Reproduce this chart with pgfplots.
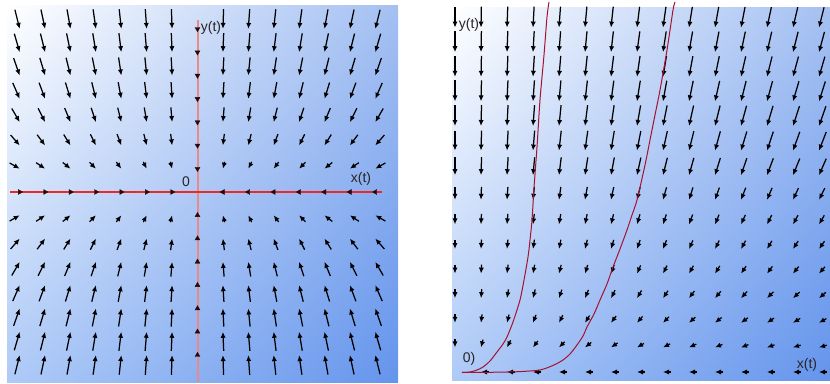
\documentclass[border=0pt]{standalone}
\usepackage{pgfplots}
\pgfplotsset{compat=1.18}
\usepackage{pgfplotstable}
\usepackage{fontspec}
\setmainfont{Liberation Sans}
\usetikzlibrary{arrows.meta,shadings}
\definecolor{bgTR}{RGB}{164,192,242}
\definecolor{bgBL}{RGB}{174,202,247}
\definecolor{bgBR}{RGB}{100,148,236}
\definecolor{axred}{RGB}{236,40,40}
\definecolor{axpink}{RGB}{232,138,138}
\definecolor{trajred}{RGB}{165,18,48}
\definecolor{dotcol}{RGB}{40,8,8}

% left panel, one quadrant of the field: grid point (i,j), offset of the tail (a,b)
\pgfplotstableread[row sep=\\]{
i j a b\\
1 1 0.0678 0.2954\\ 2 1 0.1333 0.2906\\ 3 1 0.1952 0.2838\\ 4 1 0.2526 0.2754\\ 5 1 0.3053 0.2663\\ 6 1 0.3534 0.2568\\ 7 1 0.3971 0.2474\\
1 2 0.0567 0.4948\\ 2 2 0.1126 0.4910\\ 3 2 0.1668 0.4848\\ 4 2 0.2186 0.4766\\ 5 2 0.2675 0.4666\\ 6 2 0.3135 0.4556\\ 7 2 0.3563 0.4439\\
1 3 0.0481 0.6288\\ 2 3 0.0957 0.6257\\ 3 3 0.1423 0.6206\\ 4 3 0.1876 0.6134\\ 5 3 0.2313 0.6051\\ 6 3 0.2731 0.5953\\ 7 3 0.3125 0.5840\\
1 4 0.0412 0.7183\\ 2 4 0.0821 0.7162\\ 3 4 0.1225 0.7121\\ 4 4 0.1620 0.7066\\ 5 4 0.2004 0.6990\\ 6 4 0.2376 0.6908\\ 7 4 0.2737 0.6819\\
1 5 0.0357 0.7785\\ 2 5 0.0713 0.7768\\ 3 5 0.1064 0.7734\\ 4 5 0.1411 0.7691\\ 5 5 0.1750 0.7631\\ 6 5 0.2081 0.7562\\ 7 5 0.2403 0.7485\\
1 6 0.0313 0.8189\\ 2 6 0.0625 0.8178\\ 3 6 0.0934 0.8147\\ 4 6 0.1239 0.8106\\ 5 6 0.1541 0.8065\\ 6 6 0.1835 0.8003\\ 7 6 0.2125 0.7941\\
1 7 0.0277 0.8460\\ 2 7 0.0554 0.8448\\ 3 7 0.0828 0.8424\\ 4 7 0.1101 0.8400\\ 5 7 0.1368 0.8352\\ 6 7 0.1632 0.8304\\ 7 7 0.1893 0.8256\\
}\leftq

% right panel field: grid point (i,j), offset of the tail (a,b)
\pgfplotstableread[row sep=\\]{
i j a b\\
1 0 0.3077 0\\ 2 0 0.3077 0\\ 3 0 0.3077 0\\ 4 0 0.3077 0\\ 5 0 0.3077 0\\ 6 0 0.3077 0\\ 7 0 0.3077 0\\ 8 0 0.3077 0\\ 9 0 0.3077 0\\ 10 0 0.3077 0\\ 11 0 0.3077 0\\ 12 0 0.3077 0\\ 13 0 0.3077 0\\ 14 0 0.3077 0\\
0 1 0 0.3252\\ 1 1 0.0746 0.3155\\ 2 1 0.1376 0.2909\\ 3 1 0.1846 0.2602\\ 4 1 0.2176 0.2300\\ 5 1 0.2402 0.2031\\ 6 1 0.2560 0.1804\\ 7 1 0.2672 0.1613\\ 8 1 0.2752 0.1454\\ 9 1 0.2812 0.1321\\ 10 1 0.2857 0.1208\\ 11 1 0.2893 0.1112\\ 12 1 0.2919 0.1028\\ 13 1 0.2941 0.0956\\ 14 1 0.2959 0.0893\\
0 2 0 0.3455\\ 1 2 0.0405 0.3429\\ 2 2 0.0793 0.3352\\ 3 2 0.1148 0.3235\\ 4 2 0.1462 0.3090\\ 5 2 0.1733 0.2930\\ 6 2 0.1962 0.2764\\ 7 2 0.2153 0.2600\\ 8 2 0.2312 0.2444\\ 9 2 0.2444 0.2296\\ 10 2 0.2552 0.2158\\ 11 2 0.2644 0.2033\\ 12 2 0.2721 0.1917\\ 13 2 0.2785 0.1811\\ 14 2 0.2839 0.1715\\
0 3 0 0.3659\\ 1 3 0.0287 0.3646\\ 2 3 0.0569 0.3607\\ 3 3 0.0840 0.3549\\ 4 3 0.1095 0.3471\\ 5 3 0.1331 0.3377\\ 6 3 0.1548 0.3271\\ 7 3 0.1744 0.3160\\ 8 3 0.1920 0.3044\\ 9 3 0.2077 0.2927\\ 10 3 0.2216 0.2811\\ 11 3 0.2339 0.2697\\ 12 3 0.2448 0.2587\\ 13 3 0.2544 0.2482\\ 14 3 0.2628 0.2381\\
0 4 0 0.3659\\ 1 4 0.0216 0.3651\\ 2 4 0.0429 0.3631\\ 3 4 0.0638 0.3595\\ 4 4 0.0840 0.3550\\ 5 4 0.1033 0.3493\\ 6 4 0.1215 0.3425\\ 7 4 0.1388 0.3353\\ 8 4 0.1548 0.3272\\ 9 4 0.1697 0.3188\\ 10 4 0.1834 0.3102\\ 11 4 0.1961 0.3014\\ 12 4 0.2077 0.2927\\ 13 4 0.2182 0.2839\\ 14 4 0.2279 0.2753\\
0 5 0 0.3862\\ 1 5 0.0183 0.3858\\ 2 5 0.0364 0.3842\\ 3 5 0.0542 0.3819\\ 4 5 0.0716 0.3786\\ 5 5 0.0886 0.3745\\ 6 5 0.1050 0.3699\\ 7 5 0.1207 0.3645\\ 8 5 0.1357 0.3585\\ 9 5 0.1500 0.3522\\ 10 5 0.1634 0.3454\\ 11 5 0.1760 0.3383\\ 12 5 0.1880 0.3312\\ 13 5 0.1991 0.3238\\ 14 5 0.2096 0.3164\\
0 6 0 0.4268\\ 1 6 0.0168 0.4264\\ 2 6 0.0335 0.4254\\ 3 6 0.0501 0.4235\\ 4 6 0.0664 0.4211\\ 5 6 0.0823 0.4178\\ 6 6 0.0979 0.4140\\ 7 6 0.1131 0.4098\\ 8 6 0.1277 0.4049\\ 9 6 0.1418 0.3997\\ 10 6 0.1553 0.3940\\ 11 6 0.1683 0.3880\\ 12 6 0.1806 0.3818\\ 13 6 0.1924 0.3754\\ 14 6 0.2035 0.3688\\
0 7 0 0.5285\\ 1 7 0.0178 0.5281\\ 2 7 0.0356 0.5271\\ 3 7 0.0533 0.5254\\ 4 7 0.0707 0.5232\\ 5 7 0.0879 0.5203\\ 6 7 0.1047 0.5166\\ 7 7 0.1213 0.5127\\ 8 7 0.1374 0.5081\\ 9 7 0.1530 0.5031\\ 10 7 0.1682 0.4977\\ 11 7 0.1828 0.4919\\ 12 7 0.1970 0.4858\\ 13 7 0.2105 0.4793\\ 14 7 0.2236 0.4727\\
0 8 0 0.7317\\ 1 8 0.0216 0.7313\\ 2 8 0.0432 0.7303\\ 3 8 0.0646 0.7284\\ 4 8 0.0859 0.7260\\ 5 8 0.1069 0.7229\\ 6 8 0.1276 0.7191\\ 7 8 0.1479 0.7148\\ 8 8 0.1679 0.7100\\ 9 8 0.1874 0.7044\\ 10 8 0.2065 0.6983\\ 11 8 0.2250 0.6919\\ 12 8 0.2430 0.6850\\ 13 8 0.2605 0.6778\\ 14 8 0.2775 0.6703\\
0 9 0 0.8130\\ 1 9 0.0214 0.8128\\ 2 9 0.0427 0.8116\\ 3 9 0.0639 0.8103\\ 4 9 0.0850 0.8081\\ 5 9 0.1058 0.8052\\ 6 9 0.1264 0.8018\\ 7 9 0.1468 0.7981\\ 8 9 0.1669 0.7936\\ 9 9 0.1865 0.7886\\ 10 9 0.2059 0.7834\\ 11 9 0.2248 0.7775\\ 12 9 0.2432 0.7712\\ 13 9 0.2612 0.7646\\ 14 9 0.2788 0.7576\\
0 10 0 0.8537\\ 1 10 0.0202 0.8535\\ 2 10 0.0403 0.8525\\ 3 10 0.0604 0.8514\\ 4 10 0.0804 0.8494\\ 5 10 0.1002 0.8471\\ 6 10 0.1198 0.8442\\ 7 10 0.1392 0.8408\\ 8 10 0.1584 0.8371\\ 9 10 0.1773 0.8328\\ 10 10 0.1959 0.8281\\ 11 10 0.2142 0.8232\\ 12 10 0.2321 0.8177\\ 13 10 0.2496 0.8119\\ 14 10 0.2668 0.8057\\
0 11 0 0.8537\\ 1 11 0.0184 0.8535\\ 2 11 0.0367 0.8526\\ 3 11 0.0549 0.8517\\ 4 11 0.0731 0.8501\\ 5 11 0.0912 0.8483\\ 6 11 0.1091 0.8458\\ 7 11 0.1269 0.8431\\ 8 11 0.1445 0.8399\\ 9 11 0.1619 0.8363\\ 10 11 0.1790 0.8324\\ 11 11 0.1959 0.8283\\ 12 11 0.2125 0.8235\\ 13 11 0.2288 0.8186\\ 14 11 0.2449 0.8135\\
0 12 0 0.8537\\ 1 12 0.0168 0.8535\\ 2 12 0.0336 0.8529\\ 3 12 0.0504 0.8521\\ 4 12 0.0671 0.8507\\ 5 12 0.0837 0.8490\\ 6 12 0.1002 0.8472\\ 7 12 0.1165 0.8447\\ 8 12 0.1328 0.8421\\ 9 12 0.1488 0.8390\\ 10 12 0.1647 0.8357\\ 11 12 0.1804 0.8322\\ 12 12 0.1959 0.8281\\ 13 12 0.2111 0.8240\\ 14 12 0.2261 0.8195\\
0 13 0 0.8536\\ 1 13 0.0155 0.8535\\ 2 13 0.0310 0.8529\\ 3 13 0.0465 0.8523\\ 4 13 0.0620 0.8512\\ 5 13 0.0773 0.8497\\ 6 13 0.0926 0.8479\\ 7 13 0.1077 0.8460\\ 8 13 0.1228 0.8438\\ 9 13 0.1378 0.8413\\ 10 13 0.1525 0.8383\\ 11 13 0.1672 0.8352\\ 12 13 0.1816 0.8318\\ 13 13 0.1959 0.8282\\ 14 13 0.2100 0.8244\\
0 14 0 0.8537\\ 1 14 0.0144 0.8534\\ 2 14 0.0288 0.8530\\ 3 14 0.0432 0.8525\\ 4 14 0.0576 0.8516\\ 5 14 0.0718 0.8502\\ 6 14 0.0860 0.8489\\ 7 14 0.1002 0.8470\\ 8 14 0.1142 0.8450\\ 9 14 0.1281 0.8427\\ 10 14 0.1420 0.8402\\ 11 14 0.1557 0.8377\\ 12 14 0.1692 0.8348\\ 13 14 0.1826 0.8316\\ 14 14 0.1959 0.8282\\
}\rightf

\pgfplotsset{
  field/.style={black, line width=1.25pt, {Latex[length=6pt,width=5.2pt]}-},
  panel/.style={scale only axis, anchor=south west, axis line style={draw=none}, ticks=none, clip=false},
  axdot/.style={only marks, mark=triangle*, mark size=2.8pt},
}
\tikzset{lbl/.style={font=\fontsize{14}{16}\selectfont, text=black!85, inner sep=0pt}}

\begin{document}
\begin{tikzpicture}[x=1pt,y=1pt]
\path (0,0) rectangle (830,382);
% ---------------- left panel ----------------
\begin{axis}[panel, at={(7pt,0pt)}, width=391pt, height=377pt,
  xmin=-7.5, xmax=7.894, ymin=-8.155, ymax=8.026,
  axis background/.style={shade, upper left=white, upper right=bgTR, lower left=bgBL, lower right=bgBR}]
\addplot[axpink, line width=2pt] coordinates {(0,-8.155) (0,7.38)};
\addplot[axred, line width=2.4pt] coordinates {(-7.38,0) (7.26,0)};
\addplot[field, quiver={u=\thisrow{a}, v=\thisrow{b}}] table[x=i, y=j] {\leftq};
\addplot[field, quiver={u=-\thisrow{a}, v=\thisrow{b}}] table[x expr=-\thisrow{i}, y=j] {\leftq};
\addplot[field, quiver={u=\thisrow{a}, v=-\thisrow{b}}] table[x=i, y expr=-\thisrow{j}] {\leftq};
\addplot[field, quiver={u=-\thisrow{a}, v=-\thisrow{b}}] table[x expr=-\thisrow{i}, y expr=-\thisrow{j}] {\leftq};
\addplot[axdot, mark options={rotate=90, fill=dotcol, draw=dotcol}] coordinates {(1,0) (2,0) (3,0) (4,0) (5,0) (6,0) (7,0)};
\addplot[axdot, mark options={rotate=-90, fill=dotcol, draw=dotcol}] coordinates {(-1,0) (-2,0) (-3,0) (-4,0) (-5,0) (-6,0) (-7,0)};
\addplot[axdot, mark options={rotate=180, fill=dotcol, draw=dotcol}] coordinates {(0,1) (0,2) (0,3) (0,4) (0,5) (0,6) (0,7)};
\addplot[axdot, mark options={rotate=0, fill=dotcol, draw=dotcol}] coordinates {(0,-1) (0,-2) (0,-3) (0,-4) (0,-5) (0,-6) (0,-7)};
\node[lbl] at (axis cs:0.531,7.04) {y(t)};
\node[lbl] at (axis cs:-0.453,0.43) {0};
\node[lbl] at (axis cs:6.437,0.56) {x(t)};
\end{axis}
% ---------------- right panel ----------------
\begin{axis}[panel, at={(452pt,2pt)}, width=378pt, height=372pt,
  xmin=-0.1154, xmax=14.423, ymin=-0.325, ymax=14.797,
  axis background/.style={shade, upper left=white, upper right=bgTR, lower left=bgBL, lower right=bgBR}]
\addplot[field, quiver={u=\thisrow{a}, v=\thisrow{b}}] table[x=i, y=j] {\rightf};
\addplot[trajred, line width=1pt, smooth, tension=0.45] coordinates {
(0.269,-0.02) (0.577,0) (0.846,0.081) (1.077,0.203) (1.346,0.447) (1.615,0.813) (1.846,1.138) (2.0,1.423) (2.231,2.033) (2.5,2.927) (2.654,3.74) (2.808,4.675) (2.885,5.366) (2.962,6.179) (3.038,7.48) (3.154,9.146) (3.269,11.057) (3.423,12.886) (3.538,14.431) (3.615,15.041)};
\addplot[trajred, line width=1pt, smooth, tension=0.45] coordinates {
(0.269,-0.02) (1.346,-0.012) (2.308,0.008) (2.885,0.041) (3.269,0.081) (3.577,0.183) (3.885,0.325) (4.154,0.488) (4.423,0.732) (4.692,1.098) (4.923,1.463) (5.077,1.829) (5.346,2.358) (5.577,2.927) (5.846,3.577) (6.077,4.268) (6.346,5.0) (6.615,5.772) (6.808,6.382) (7.0,6.992) (7.308,8.415) (7.5,9.431) (7.692,10.447) (7.885,11.463) (8.154,13.089) (8.385,14.715) (8.462,15.041)};
\node[lbl] at (axis cs:0.538,14.106) {y(t)};
\node[lbl] at (axis cs:0.538,0.528) {0)};
\node[lbl] at (axis cs:13.538,0.285) {x(t)};
\end{axis}
\end{tikzpicture}
\end{document}
